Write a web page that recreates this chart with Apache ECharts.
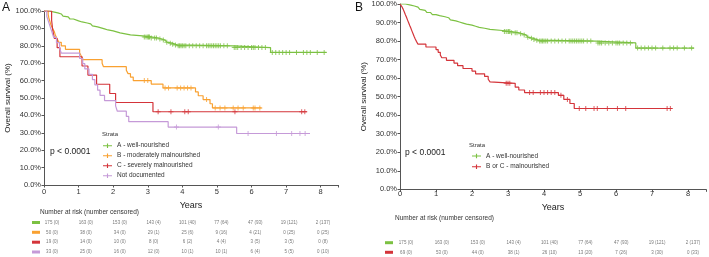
<!DOCTYPE html>
<html>
<head>
<meta charset="utf-8">
<script src="https://cdn.jsdelivr.net/npm/echarts@6/dist/echarts.min.js"></script>
<style>
  html, body { margin: 0; padding: 0; background: #fff; }
  #chart { width: 709px; height: 257px; }
</style>
</head>
<body>
<div id="chart"></div>
<script>
// x ticks (years) shared by plots and risk tables
const years = [0, 1, 2, 3, 4, 5, 6, 7, 8];
const yTicks = [0, 10, 20, 30, 40, 50, 60, 70, 80, 90, 100];

// Kaplan-Meier steps [years, survival %]
const wellNourished = [[0,100],[0.15,99.4],[0.3,98.9],[0.4,98.3],[0.5,97.7],[0.55,97.1],[0.6,96.6],[0.7,96.0],[0.75,95.4],[0.85,94.9],[0.9,94.3],[1.0,93.7],[1.1,93.1],[1.25,92.6],[1.35,92.0],[1.4,91.4],[1.45,90.9],[1.55,90.3],[1.65,89.7],[1.75,89.1],[1.85,88.6],[2.0,88.0],[2.1,87.4],[2.2,86.9],[2.35,86.3],[2.5,85.7],[2.85,85.1],[3.1,84.5],[3.3,83.9],[3.4,83.3],[3.5,82.7],[3.55,82.1],[3.6,81.5],[3.7,80.9],[3.75,80.5],[3.85,80.0],[5.45,79.0],[6.55,76.2],[8.17,76.2]];
const moderately = [[0,100],[0.12,98],[0.14,96],[0.17,94],[0.2,92],[0.25,90],[0.3,88],[0.33,86],[0.38,84],[0.43,82],[0.5,80],[0.62,78],[1.03,76],[1.08,74],[1.13,72],[1.68,70],[1.72,68],[2.38,66],[2.43,64],[2.5,62],[2.58,60],[3.1,58],[3.44,55.8],[4.38,53.5],[4.46,51.3],[4.6,49.1],[4.8,46.7],[4.87,44.3],[6.29,44.3]];
const severely = [[0,100],[0.22,94.7],[0.25,89.5],[0.3,84.2],[0.38,78.9],[0.46,73.7],[1.1,68.4],[1.27,63.2],[1.52,57.9],[1.9,52.6],[2.07,47.4],[3.15,42.1],[7.6,42.1]];
const notDocumented = [[0,100],[0.08,97],[0.13,93.9],[0.18,90.9],[0.23,87.9],[0.28,84.8],[0.36,81.8],[0.45,78.8],[0.5,75.8],[1.03,72.7],[1.12,69.7],[1.18,66.7],[1.3,63.6],[1.4,60.6],[1.47,57.6],[1.55,54.5],[1.62,51.5],[1.75,48.5],[2.07,45.5],[2.12,42.4],[2.38,39.4],[2.45,36.4],[3.59,33.3],[5.57,29.6],[7.69,29.6]];
const malnourished = [[0,100],[0.05,98.6],[0.09,97.1],[0.12,95.7],[0.15,94.2],[0.18,92.8],[0.21,91.3],[0.24,89.9],[0.27,88.4],[0.3,87.0],[0.33,85.5],[0.36,84.1],[0.39,82.6],[0.42,81.2],[0.46,79.7],[0.5,78.3],[0.72,76.8],[1.0,75.4],[1.06,73.9],[1.12,72.5],[1.16,71.0],[1.29,69.6],[1.5,68.1],[1.6,66.7],[1.75,65.2],[2.0,63.8],[2.1,62.3],[2.35,60.9],[2.45,59.4],[2.5,58.0],[2.54,57.2],[3.2,55.1],[3.3,53.6],[3.46,52.2],[4.4,50.7],[4.55,48.5],[4.72,46.3],[4.84,43.6],[7.56,43.6]];

// censoring times (years)
const cenWell = [2.9,2.95,3.0,3.02,3.05,3.1,3.2,3.25,3.35,3.45,3.55,3.65,3.72,3.8,3.88,3.92,3.96,4.0,4.05,4.1,4.2,4.3,4.4,4.5,4.6,4.7,4.75,4.8,4.85,4.9,4.95,5.0,5.05,5.1,5.2,5.3,5.5,5.55,5.6,5.7,5.8,5.9,6.0,6.05,6.1,6.2,6.3,6.4,6.6,6.7,6.8,6.9,7.0,7.1,7.3,7.5,7.6,7.7,7.9,8.1];
const cenModerately = [2.9,3.0,3.5,3.6,3.85,3.95,4.05,4.15,4.25,4.7,4.95,5.09,5.23,5.47,5.61,5.76,6.05,6.1,6.24];
const cenSeverely = [3.3,3.67,4.07,4.17,5.52,7.45,7.54];
const cenNotDocumented = [3.83,5.04,5.9,6.72,7.16,7.4,7.55];
const cenMalnourished = [2.95,3.0,3.05,3.6,3.7,3.9,4.0,4.1,4.2,4.3,4.47,4.65,4.98,5.16,5.39,5.48,5.76,6.04,6.27,7.42,7.51];

// number at risk / number censored
const riskWell = [175,163,153,143,101,77,47,19,2];
const censWell = [0,0,0,4,40,64,93,121,137];
const riskModerately = [50,38,34,29,25,9,4,0,0];
const censModerately = [0,0,0,1,6,16,21,25,25];
const riskSeverely = [19,14,10,8,6,4,3,3,0];
const censSeverely = [0,0,0,0,2,4,5,5,8];
const riskNotDocumented = [33,25,16,12,10,10,6,5,0];
const censNotDocumented = [0,0,0,0,1,1,4,5,10];
const riskMalnourished = [69,53,44,38,26,13,7,3,0];
const censMalnourished = [0,0,0,1,10,20,26,30,33];

const GREEN = '#7cc142', ORANGE = '#f9a131', RED = '#d4343a', PURPLE = '#c59ad8';
const FONT = 'Arial, "Liberation Sans", sans-serif';
const PLUS = 'path://M4,0h2v4h4v2h-4v4h-2v-4h-4v-2h4z';
const LEGEND_ICON = 'path://M0,3h16v2h-16z M7,0h2v8h-2z';

// survival value of a step curve at time t
const survAt = (curve, t) => {
    let v = curve[0][1];
    for (const p of curve) { if (p[0] <= t) v = p[1]; }
    return v;
};

const kmLine = (name, data, color, idx) => ({
    name, type: 'line', step: 'end', data,
    xAxisIndex: idx, yAxisIndex: idx,
    showSymbol: false, symbol: 'none',
    lineStyle: { color, width: 1.2 }, itemStyle: { color },
    z: 3
});
const censorMarks = (name, curve, times, color, idx) => ({
    name, type: 'scatter',
    data: times.map(t => [t, survAt(curve, t)]),
    xAxisIndex: idx, yAxisIndex: idx,
    symbol: PLUS, symbolSize: 5,
    itemStyle: { color }, z: 4
});
const riskRow = (risk, cens, row, idx) => ({
    type: 'scatter', symbolSize: 0,
    xAxisIndex: idx, yAxisIndex: idx,
    data: years.map((y, i) => [y, row, risk[i] + ' (' + cens[i] + ')']),
    label: { show: true, position: 'inside', formatter: p => p.data[2], fontSize: 4.5, color: '#555', fontFamily: FONT },
    silent: true
});

const plotX = (idx) => ({
    type: 'value', gridIndex: idx, min: 0, max: 8.5, interval: 1,
    name: 'Years', nameLocation: 'middle', nameGap: 9,
    nameTextStyle: { fontSize: 9, color: '#222', fontFamily: FONT },
    axisLine: { lineStyle: { color: '#555', width: 1 } },
    axisTick: { length: 2.5, lineStyle: { color: '#555' } },
    axisLabel: { fontSize: 7.5, color: '#333', fontFamily: FONT, margin: idx === 0 ? 3 : 1,
        formatter: v => (Number.isInteger(v) ? String(v) : '') },
    splitLine: { show: false }
});
const plotY = (idx, gap) => ({
    type: 'value', gridIndex: idx, min: 0, max: 100, interval: 10,
    name: 'Overall survival (%)', nameLocation: 'middle', nameGap: gap, nameRotate: 90,
    nameTextStyle: { fontSize: 8, color: '#222', fontFamily: FONT },
    axisLine: { show: true, lineStyle: { color: '#555', width: 1 } },
    axisTick: { show: true, length: 2.5, lineStyle: { color: '#555' } },
    axisLabel: { fontSize: 7.5, color: '#333', fontFamily: FONT, margin: 3,
        formatter: v => (yTicks.includes(v) ? v.toFixed(1) + '%' : '') },
    splitLine: { show: false }
});
const hiddenAxis = (idx, min, max, inverse) => ({
    type: 'value', gridIndex: idx, min, max, inverse: !!inverse, show: false
});

const legendText = { fontSize: 6.5, color: '#333', fontFamily: FONT };

const option = {
    animation: false,
    backgroundColor: '#fff',
    grid: [
        { left: 44, top: 11, width: 294, height: 174 },
        { left: 400, top: 4, width: 307.4, height: 185.3 },
        { left: 52, top: 222.5, width: 271, height: 29.5 },
        { left: 406, top: 242.7, width: 287, height: 9.6 }
    ],
    xAxis: [plotX(0), plotX(1), hiddenAxis(2, 0, 8), hiddenAxis(3, 0, 8)],
    yAxis: [plotY(0, 28), plotY(1, 32), hiddenAxis(2, 0, 3, true), hiddenAxis(3, 0, 1, true)],
    legend: [
        {
            left: 103, top: 142.2, orient: 'vertical', padding: 0,
            itemWidth: 9, itemHeight: 6, itemGap: 3, icon: LEGEND_ICON,
            textStyle: legendText,
            data: ['A - well-nourished', 'B - moderately malnourished', 'C - severely malnourished', 'Not documented']
        },
        {
            left: 472, top: 152.5, orient: 'vertical', padding: 0,
            itemWidth: 9, itemHeight: 6, itemGap: 3.7, icon: LEGEND_ICON,
            textStyle: legendText,
            data: ['A - well-nourished', 'B or C - malnourished']
        }
    ],
    graphic: [
        { type: 'text', left: 2, top: 2, style: { text: 'A', fontSize: 12, fill: '#111', fontFamily: FONT } },
        { type: 'text', left: 355, top: 2, style: { text: 'B', fontSize: 12, fill: '#111', fontFamily: FONT } },
        { type: 'text', left: 50, top: 147, style: { text: 'p < 0.0001', fontSize: 8.5, fill: '#222', fontFamily: FONT } },
        { type: 'text', left: 405, top: 148.5, style: { text: 'p < 0.0001', fontSize: 8.5, fill: '#222', fontFamily: FONT } },
        { type: 'text', left: 102, top: 131.5, style: { text: 'Strata', fontSize: 6, fill: '#333', fontFamily: FONT } },
        { type: 'text', left: 469, top: 142, style: { text: 'Strata', fontSize: 6, fill: '#333', fontFamily: FONT } },
        { type: 'text', left: 40, top: 209, style: { text: 'Number at risk (number censored)', fontSize: 6.5, fill: '#333', fontFamily: FONT } },
        { type: 'text', left: 395, top: 214.5, style: { text: 'Number at risk (number censored)', fontSize: 6.5, fill: '#333', fontFamily: FONT } },
        { type: 'rect', shape: { x: 32, y: 221, width: 8, height: 3 }, style: { fill: GREEN } },
        { type: 'rect', shape: { x: 32, y: 230.8, width: 8, height: 3 }, style: { fill: ORANGE } },
        { type: 'rect', shape: { x: 32, y: 240.7, width: 8, height: 3 }, style: { fill: RED } },
        { type: 'rect', shape: { x: 32, y: 250.5, width: 8, height: 3 }, style: { fill: PURPLE } },
        { type: 'rect', shape: { x: 385, y: 241.2, width: 8, height: 3 }, style: { fill: GREEN } },
        { type: 'rect', shape: { x: 385, y: 250.8, width: 8, height: 3 }, style: { fill: RED } }
    ],
    series: [
        kmLine('A - well-nourished', wellNourished, GREEN, 0),
        kmLine('B - moderately malnourished', moderately, ORANGE, 0),
        kmLine('C - severely malnourished', severely, RED, 0),
        kmLine('Not documented', notDocumented, PURPLE, 0),
        censorMarks('A - well-nourished', wellNourished, cenWell, GREEN, 0),
        censorMarks('B - moderately malnourished', moderately, cenModerately, ORANGE, 0),
        censorMarks('C - severely malnourished', severely, cenSeverely, RED, 0),
        censorMarks('Not documented', notDocumented, cenNotDocumented, PURPLE, 0),

        kmLine('A - well-nourished', wellNourished, GREEN, 1),
        kmLine('B or C - malnourished', malnourished, RED, 1),
        censorMarks('A - well-nourished', wellNourished, cenWell, GREEN, 1),
        censorMarks('B or C - malnourished', malnourished, cenMalnourished, RED, 1),

        riskRow(riskWell, censWell, 0, 2),
        riskRow(riskModerately, censModerately, 1, 2),
        riskRow(riskSeverely, censSeverely, 2, 2),
        riskRow(riskNotDocumented, censNotDocumented, 3, 2),
        riskRow(riskWell, censWell, 0, 3),
        riskRow(riskMalnourished, censMalnourished, 1, 3)
    ]
};

const chart = echarts.init(document.getElementById('chart'), null, { renderer: 'canvas' });
chart.setOption(option);
</script>
</body>
</html>
